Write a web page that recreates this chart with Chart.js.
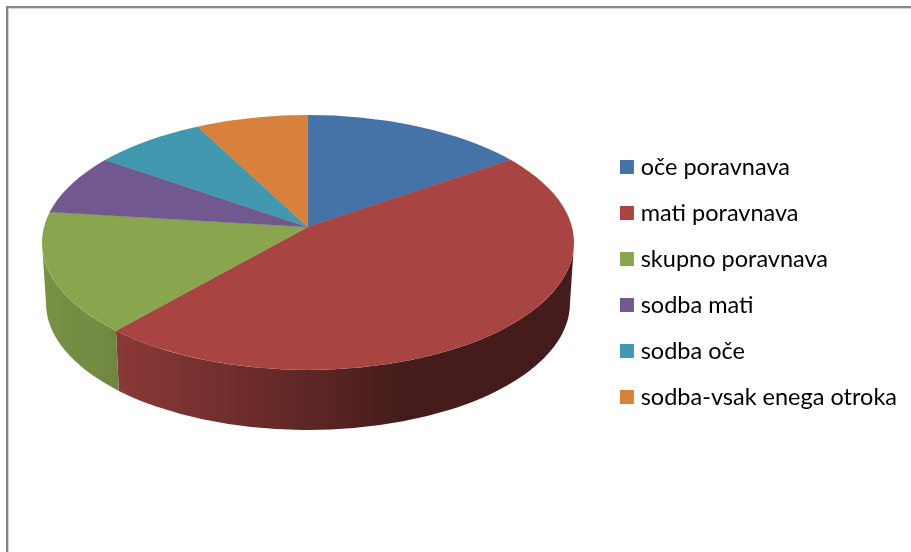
<!DOCTYPE html>
<html>
<head>
<meta charset="utf-8">
<style>
    html, body { margin: 0; padding: 0; background: #fff; overflow: hidden; }
    #frame {
        position: absolute; left: 6px; top: 6px; width: 905px; height: 546px;
        border-left: 2px solid #878787; border-top: 2px solid #878787;
        box-shadow: inset 1px 1px 0 #d4d4d4;
    }
    #pieChart { position: absolute; left: 0; top: 0; }
</style>
<script src="https://cdn.jsdelivr.net/npm/chart.js@4"></script>
</head>
<body>
<div id="frame"></div>
<canvas id="pieChart" width="911" height="552"></canvas>
<script>
const categories = [
    "oče poravnava",
    "mati poravnava",
    "skupno poravnava",
    "sodba mati",
    "sodba oče",
    "sodba-vsak enega otroka",
];
const values = [2, 6, 2, 1, 1, 1];
const colors = ["#4572a7", "#a84543", "#89a54e", "#71588f", "#4198af", "#d8813d"];

// shape of the tilted pie
const topRim = { x: 308, y: 242.5, rx: 266, ry: 127.5 };
const bottomRim = { x: 308, y: 303, rx: 262, ry: 127 };
const apex = { x: 307.7, y: 227 };
const squash = topRim.ry / topRim.rx;

// light on the side wall: [x, brightness]
const wallShade = [[46, 0.88], [116, 0.82], [320, 0.54], [400, 0.41], [574, 0.41]];

function shade(hex, f) {
    const n = parseInt(hex.slice(1), 16);
    const r = Math.round((n >> 16) * f);
    const g = Math.round(((n >> 8) & 255) * f);
    const b = Math.round((n & 255) * f);
    return `rgb(${r}, ${g}, ${b})`;
}

// where a slice edge leaving the apex meets the top rim, as an ellipse angle
function rimAngle(a) {
    const px = (apex.x - topRim.x) / topRim.rx;
    const py = (apex.y - topRim.y) / topRim.ry;
    const dot = px * Math.cos(a) + py * Math.sin(a);
    const t = -dot + Math.sqrt(dot * dot - px * px - py * py + 1);
    let phi = Math.atan2(py + t * Math.sin(a), px + t * Math.cos(a));
    while (phi < a - Math.PI) phi += Math.PI * 2;
    return phi;
}

const tiltedPie = {
    id: "tiltedPie",
    beforeDatasetsDraw(chart) {
        const ctx = chart.ctx;
        const arcs = chart.getDatasetMeta(0).data;

        arcs.forEach((arc) => {
            const from = Math.max(rimAngle(arc.startAngle), 0);
            const to = Math.min(rimAngle(arc.endAngle), Math.PI);
            if (to <= from) return;
            const grad = ctx.createLinearGradient(46, 0, 574, 0);
            wallShade.forEach(([x, f]) => {
                grad.addColorStop((x - 46) / 528, shade(arc.options.backgroundColor, f));
            });
            ctx.beginPath();
            ctx.ellipse(topRim.x, topRim.y, topRim.rx, topRim.ry, 0, from, to);
            ctx.ellipse(bottomRim.x, bottomRim.y, bottomRim.rx, bottomRim.ry, 0, to, from, true);
            ctx.closePath();
            ctx.fillStyle = grad;
            ctx.fill();
        });

        ctx.save();
        ctx.beginPath();
        ctx.ellipse(topRim.x, topRim.y, topRim.rx, topRim.ry, 0, 0, Math.PI * 2);
        ctx.clip();
        ctx.translate(apex.x, apex.y);
        ctx.scale(1, squash);
        ctx.translate(-arcs[0].x, -arcs[0].y);
    },
    afterDatasetsDraw(chart) {
        chart.ctx.restore();
    },
};

new Chart(document.querySelector("#pieChart").getContext("2d"), {
    type: "pie",
    data: {
        labels: categories,
        datasets: [
            {
                data: values,
                backgroundColor: colors,
                borderColor: colors,
                borderWidth: 0.5,
                radius: 340,
                clip: false,
            },
        ],
    },
    options: {
        responsive: false,
        animation: false,
        layout: { padding: { top: 12, right: 4 } },
        plugins: {
            tooltip: { enabled: false },
            legend: {
                position: "right",
                labels: {
                    boxWidth: 4,
                    boxHeight: 4,
                    padding: 22.5,
                    color: "#2b2b2b",
                    font: { family: "Lato", size: 23.5 },
                    generateLabels: () =>
                        categories.map((text, i) => ({
                            text,
                            index: i,
                            fillStyle: colors[i],
                            strokeStyle: colors[i],
                            lineWidth: 10,
                        })),
                },
            },
        },
    },
    plugins: [tiltedPie],
});
</script>
</body>
</html>
